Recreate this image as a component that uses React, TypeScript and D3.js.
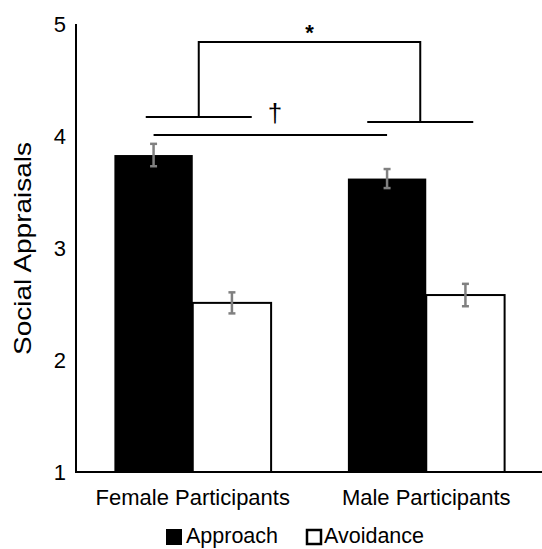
import React from 'react';
import * as d3 from 'd3';

const categories = ['Female Participants', 'Male Participants'];
const series = ['Approach', 'Avoidance'];
const approach = [3.83, 3.62];
const avoidance = [2.51, 2.58];
const approachErr = [0.1, 0.085];
const avoidanceErr = [0.094, 0.1];
const yTicks = [1, 2, 3, 4, 5];

const W = 542;
const H = 549;
const font = "Arial, 'Liberation Sans', sans-serif";

export default function App() {
  const y = d3.scaleLinear().domain([1, 5]).range([472, 24]);
  const x = d3.scaleBand<string>().domain(categories).range([76, 543]);
  const xSub = d3.scaleBand<string>().domain(series)
    .range([0, x.bandwidth()]).paddingInner(0).paddingOuter(0.49);

  const values = [approach, avoidance];
  const errs = [approachErr, avoidanceErr];
  const fills = ['#000', '#fff'];

  const cx = (c: string) => (x(c) as number) + x.bandwidth() / 2;
  const barMid = (c: string, s: string) =>
    (x(c) as number) + (xSub(s) as number) + xSub.bandwidth() / 2;

  const f = categories[0];
  const m = categories[1];

  return (
    <svg width={W} height={H} style={{ position: 'absolute', left: 0, top: 0 }}>
      <rect width={W} height={H} fill="#fff" />
      {/* bars */}
      {series.map((s, si) =>
        categories.map((c, ci) => (
          <rect key={s + c}
            x={(x(c) as number) + (xSub(s) as number)}
            y={y(values[si][ci])}
            width={xSub.bandwidth()}
            height={y(1) - y(values[si][ci])}
            fill={fills[si]}
            stroke="#000"
            strokeWidth={si === 1 ? 2 : 0} />
        )))}
      {/* error bars */}
      {series.map((s, si) =>
        categories.map((c, ci) => {
          const bx = barMid(c, s);
          const hi = y(values[si][ci] + errs[si][ci]);
          const lo = y(values[si][ci] - errs[si][ci]);
          return (
            <g key={'e' + s + c} stroke="#808080" strokeWidth={2.5}>
              <line x1={bx} x2={bx} y1={hi} y2={lo} />
              <line x1={bx - 3.5} x2={bx + 3.5} y1={hi} y2={hi} />
              <line x1={bx - 3.5} x2={bx + 3.5} y1={lo} y2={lo} />
            </g>
          );
        }))}
      {/* axes */}
      <line x1={76} x2={76} y1={y(5)} y2={y(1)} stroke="#000" strokeWidth={2} />
      <line x1={75} x2={W} y1={y(1)} y2={y(1)} stroke="#000" strokeWidth={2} />
      {yTicks.map(t => (
        <text key={t} x={66} y={y(t)} dy="0.35em" textAnchor="end"
          fontFamily={font} fontSize={22} fill="#000">{t}</text>
      ))}
      <text transform={`translate(23,248.5) rotate(-90)`}
        textAnchor="middle" dy="0.35em" fontFamily={font} fontSize={24} fill="#000"
        textLength={213} lengthAdjust="spacingAndGlyphs">
        Social Appraisals
      </text>
      {categories.map(c => (
        <text key={c} x={cx(c)} y={505} textAnchor="middle"
          fontFamily={font} fontSize={22} fill="#000">{c}</text>
      ))}
      {/* significance annotations */}
      <g stroke="#000" strokeWidth={2} fill="none">
        <polyline points={`${cx(f) + 6},${y(4.17)} ${cx(f) + 6},${y(4.84)} ${cx(m) - 6},${y(4.84)} ${cx(m) - 6},${y(4.125)}`} />
        <line x1={cx(f) - 47} x2={cx(f) + 59} y1={y(4.17)} y2={y(4.17)} />
        <line x1={cx(m) - 59} x2={cx(m) + 47} y1={y(4.125)} y2={y(4.125)} />
        <line x1={barMid(f, 'Approach')} x2={barMid(m, 'Approach')} y1={y(4.01)} y2={y(4.01)} />
      </g>
      <text x={(cx(f) + cx(m)) / 2} y={y(4.84) - 2} textAnchor="middle"
        fontFamily={font} fontSize={22} fontWeight="bold" fill="#000">*</text>
      <text x={275} y={113} dy="0.35em" textAnchor="middle"
        fontFamily={font} fontSize={26} fill="#000">†</text>
      {/* legend */}
      <rect x={166} y={529} width={16} height={16} fill="#000" />
      <text x={186} y={543} fontFamily={font} fontSize={21.5} fill="#000">{series[0]}</text>
      <rect x={307} y={530} width={14} height={14} fill="#fff" stroke="#000" strokeWidth={2.5} />
      <text x={324} y={543} fontFamily={font} fontSize={21.5} fill="#000">{series[1]}</text>
    </svg>
  );
}
